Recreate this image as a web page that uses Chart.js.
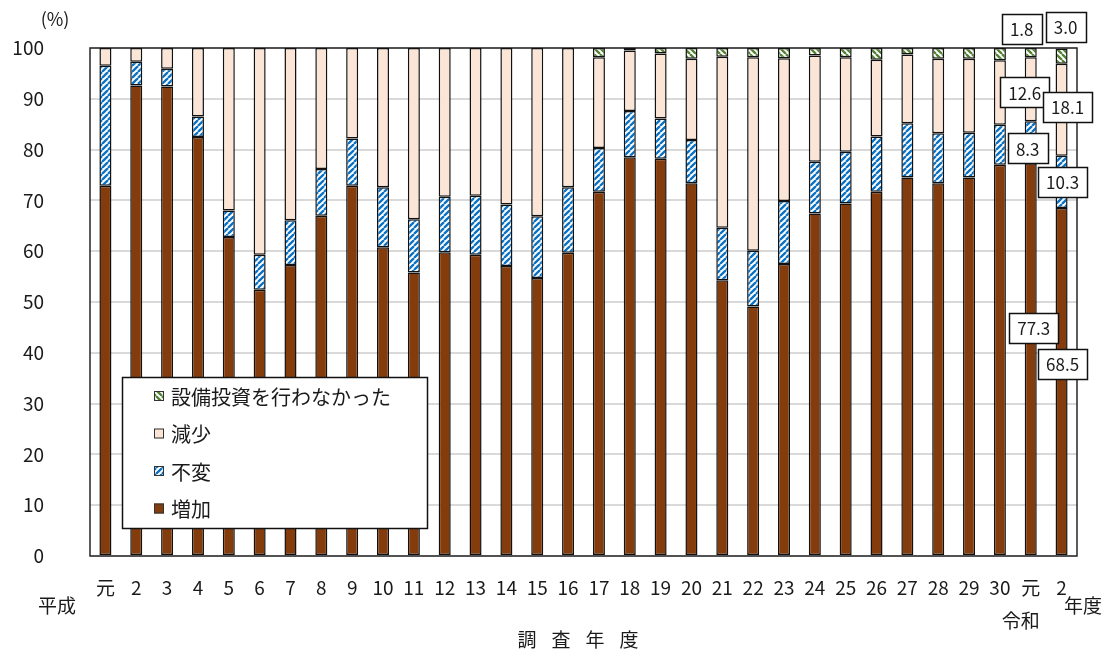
<!DOCTYPE html>
<html lang="ja">
<head>
<meta charset="utf-8">
<title>設備投資の動向</title>
<script src="https://cdn.jsdelivr.net/npm/chart.js@4.4.1/dist/chart.umd.min.js"></script>
<style>
  html, body { margin: 0; padding: 0; background: #ffffff; }
  #wrap { width: 1111px; height: 657px; }
</style>
</head>
<body>
<div id="wrap"><canvas id="chart" width="1111" height="657"></canvas></div>
<script>
// 調査年度（平成元年度〜令和2年度）
const categories = ['元','2','3','4','5','6','7','8','9','10','11','12','13','14','15','16',
  '17','18','19','20','21','22','23','24','25','26','27','28','29','30','元','2'];

// 回答割合（%）
const increase = [72.9, 92.6, 92.4, 82.5, 62.8, 52.4, 57.3, 67.0, 72.9, 60.8, 55.8, 59.8, 59.3, 57.1, 54.7, 59.7,
  71.7, 78.5, 78.2, 73.4, 54.3, 49.1, 57.5, 67.4, 69.4, 71.7, 74.5, 73.4, 74.5, 77.0, 77.3, 68.5];
const unchanged = [23.6, 4.7, 3.5, 4.0, 5.2, 6.9, 8.8, 9.2, 9.3, 11.8, 10.5, 10.9, 11.6, 12.1, 12.2, 12.9,
  8.6, 9.1, 7.9, 8.5, 10.3, 11.0, 12.4, 10.2, 10.2, 10.9, 10.7, 9.8, 8.8, 7.9, 8.3, 10.3];
const decrease = [3.5, 2.7, 4.1, 13.5, 32.0, 40.7, 33.9, 23.8, 17.8, 27.4, 33.7, 29.3, 29.1, 30.8, 33.1, 27.4,
  17.9, 11.9, 12.8, 16.0, 33.7, 38.1, 28.1, 20.9, 18.6, 15.1, 13.5, 14.7, 14.6, 12.7, 12.6, 18.1];
const noInvestment = [0, 0, 0, 0, 0, 0, 0, 0, 0, 0, 0, 0, 0, 0, 0, 0,
  1.8, 0.5, 1.1, 2.1, 1.7, 1.8, 2.0, 1.5, 1.8, 2.3, 1.3, 2.1, 2.1, 2.4, 1.8, 3.0];

const seriesNames = ['増加', '不変', '減少', '設備投資を行わなかった'];
const yTickValues = [0, 10, 20, 30, 40, 50, 60, 70, 80, 90, 100];

// 値ラベルを付ける年度（令和元年度・令和2年度）
const labelledIndexes = [30, 31];

const FONT = '"Noto Sans CJK JP", "Noto Sans", sans-serif';
const TEXT = '#1a1a1a';

function stripePattern(color, upward) {
  const p = 6;
  const c = document.createElement('canvas');
  c.width = p; c.height = p;
  const g = c.getContext('2d');
  g.fillStyle = '#ffffff';
  g.fillRect(0, 0, p, p);
  g.strokeStyle = color;
  g.lineWidth = 2.3;
  g.beginPath();
  for (let k = -1; k <= 1; k++) {
    if (upward) {
      g.moveTo(k * p, p); g.lineTo(k * p + p, 0);
    } else {
      g.moveTo(k * p, 0); g.lineTo(k * p + p, p);
    }
  }
  g.stroke();
  return g.createPattern(c, 'repeat');
}

const fills = [
  '#843C0C',
  stripePattern('#0A72C4', true),
  '#FBE5D6',
  stripePattern('#548235', false)
];

const borderW = ctx => (ctx.raw ? 1.5 : 0);

// 凡例（グラフ内の枠付き凡例）
const boxedLegend = {
  id: 'boxedLegend',
  afterDatasetsDraw(chart) {
    const g = chart.ctx;
    const x0 = 122, y0 = 377, w = 305, h = 151;
    g.save();
    g.fillStyle = '#ffffff';
    g.fillRect(x0, y0, w, h);
    g.strokeStyle = '#111';
    g.lineWidth = 1.5;
    g.strokeRect(x0 + 0.5, y0 + 0.5, w, h);
    const order = [3, 2, 1, 0];
    const rowsY = [396, 433.5, 471, 508.5];
    g.font = '20px ' + FONT;
    g.textBaseline = 'middle';
    g.textAlign = 'left';
    order.forEach((di, r) => {
      const y = rowsY[r];
      g.fillStyle = fills[di];
      g.fillRect(154, y - 5, 10, 10);
      g.strokeStyle = '#333';
      g.lineWidth = 1;
      g.strokeRect(154.5, y - 4.5, 9, 9);
      g.fillStyle = TEXT;
      g.fillText(seriesNames[di], 171, y + 1);
    });
    g.restore();
  }
};

// 令和元年度・2年度の値ラベル（枠付き）
const valueBoxes = {
  id: 'valueBoxes',
  afterDatasetsDraw(chart) {
    const g = chart.ctx;
    const ys = chart.scales.y;
    const area = chart.chartArea;
    const series = [increase, unchanged, decrease, noInvestment];
    // 区間中央に対する位置調整（px）
    const shift = {
      0: { 30: [3, -32], 31: [1, -18.5] },
      1: { 30: [-3, 6], 31: [1, 0] },
      2: { 30: [-6, 3], 31: [6, -3] },
    };
    g.save();
    g.font = '17px ' + FONT;
    g.textAlign = 'center';
    g.textBaseline = 'middle';
    labelledIndexes.forEach(i => {
      let base = 0;
      series.forEach((arr, di) => {
        const v = arr[i];
        const bar = chart.getDatasetMeta(di).data[i];
        let cx, cy;
        if (di === 3) {
          cx = bar.x + (i === 30 ? -9 : 4);
          cy = area.top - (i === 30 ? 19 : 21);
        } else {
          const mid = ys.getPixelForValue(base + v / 2);
          const s = shift[di][i];
          cx = bar.x + s[0];
          cy = mid + s[1];
        }
        base += v;
        const text = v.toFixed(1);
        const tw = g.measureText(text).width;
        const bw = Math.round(tw + 16), bh = 30;
        const bx = Math.round(cx - bw / 2), by = Math.round(cy - bh / 2);
        g.fillStyle = '#ffffff';
        g.fillRect(bx, by, bw, bh);
        g.strokeStyle = '#111';
        g.lineWidth = 1.5;
        g.strokeRect(bx + 0.5, by + 0.5, bw, bh);
        g.fillStyle = TEXT;
        g.fillText(text, cx, cy + 1);
      });
    });
    g.restore();
  }
};

// 枠線・単位・元号・軸タイトル
const frameAndTexts = {
  id: 'frameAndTexts',
  beforeDatasetsDraw(chart) {
    const g = chart.ctx;
    const a = chart.chartArea;
    g.save();
    g.strokeStyle = '#262626';
    g.lineWidth = 1.5;
    g.strokeRect(a.left, a.top, a.right - a.left, a.bottom - a.top);
    g.restore();
  },
  afterDraw(chart) {
    const g = chart.ctx;
    const xs = chart.getDatasetMeta(0).data;
    g.save();
    g.fillStyle = TEXT;
    g.textBaseline = 'middle';
    g.textAlign = 'center';
    g.font = '18px ' + FONT;
    g.fillText('(%)', 55, 19);
    g.font = '19px ' + FONT;
    g.fillText('平成', 57, 606);
    g.fillText('令和', xs[30].x - 10, 621);
    g.fillText('年度', 1083, 606);
    // 軸タイトル（字間を空けて配置）
    const title = ['調', '査', '年', '度'];
    const pitch = 34;
    const cx = 578;
    title.forEach((ch, k) => {
      g.fillText(ch, cx + (k - 1.5) * pitch, 640);
    });
    g.restore();
  }
};

new Chart(document.getElementById('chart'), {
  type: 'bar',
  data: {
    labels: categories,
    datasets: [increase, unchanged, decrease, noInvestment].map((arr, di) => ({
      label: seriesNames[di],
      data: arr,
      backgroundColor: fills[di],
      borderColor: '#111111',
      borderWidth: borderW,
      borderSkipped: false,
      barPercentage: 0.39,
      categoryPercentage: 1.0
    }))
  },
  options: {
    responsive: false,
    animation: false,
    devicePixelRatio: 1,
    layout: { padding: { top: 48, right: 34, left: 0, bottom: 0 } },
    plugins: {
      legend: { display: false },
      tooltip: { enabled: false },
      title: { display: false }
    },
    scales: {
      x: {
        stacked: true,
        grid: { display: false, drawTicks: false },
        border: { display: false },
        ticks: {
          color: TEXT,
          font: { family: FONT, size: 19 },
          padding: 20,
          maxRotation: 0,
          autoSkip: false
        },
        afterFit(scale) {
          scale.height = 101;
          scale.paddingLeft = 0;
          scale.paddingRight = 0;
        }
      },
      y: {
        stacked: true,
        min: 0,
        max: 100,
        afterBuildTicks(scale) { scale.ticks = yTickValues.map(v => ({ value: v })); },
        grid: { color: '#D9D9D9', lineWidth: 2, drawTicks: false },
        border: { display: false },
        ticks: {
          color: TEXT,
          font: { family: FONT, size: 19 },
          padding: 46
        },
        afterFit(scale) {
          scale.width = 90;
          scale.paddingTop = 0;
          scale.paddingBottom = 0;
        }
      }
    }
  },
  plugins: [frameAndTexts, boxedLegend, valueBoxes]
});
</script>
</body>
</html>
